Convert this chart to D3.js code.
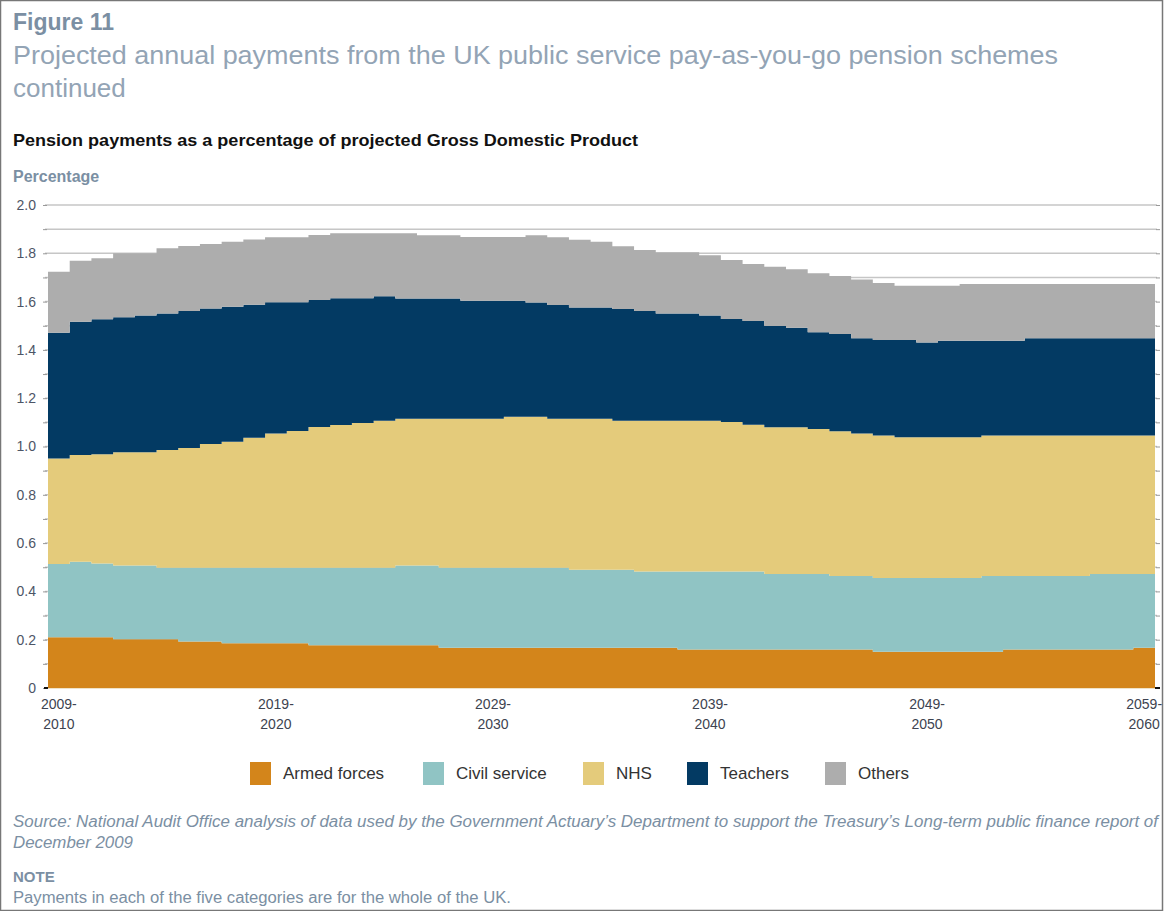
<!DOCTYPE html>
<html>
<head>
<meta charset="utf-8">
<script src="https://cdn.jsdelivr.net/npm/d3@7/dist/d3.min.js"></script>
<style>
  body { margin: 0; background: #fff; }
  svg { display: block; font-family: "Liberation Sans", Arial, sans-serif; }
</style>
</head>
<body>
<svg id="canvas"></svg>
<script>
// Financial years 2009-2010 ... 2059-2060
const startYears = d3.range(2009, 2060);
const categories = startYears.map((y) => `${y}-${y + 1}`);

// Series values (% of GDP)
const armedForces = [0.210,0.210,0.210,0.202,0.202,0.202,0.193,0.193,0.185,0.185,0.185,0.185,0.177,0.177,0.177,0.177,0.177,0.177,0.167,0.167,0.167,0.167,0.167,0.167,0.167,0.167,0.167,0.167,0.167,0.159,0.159,0.159,0.159,0.159,0.159,0.159,0.159,0.159,0.150,0.150,0.150,0.150,0.150,0.150,0.159,0.159,0.159,0.159,0.159,0.159,0.167];
const civilService = [0.303,0.313,0.306,0.305,0.305,0.296,0.305,0.305,0.313,0.313,0.313,0.313,0.321,0.321,0.321,0.321,0.330,0.330,0.331,0.331,0.331,0.331,0.331,0.331,0.323,0.323,0.323,0.315,0.315,0.323,0.323,0.323,0.323,0.313,0.313,0.313,0.305,0.305,0.305,0.305,0.305,0.305,0.305,0.314,0.305,0.305,0.305,0.305,0.313,0.313,0.305];
const nhs = [0.437,0.442,0.452,0.469,0.469,0.488,0.496,0.512,0.522,0.538,0.556,0.566,0.583,0.591,0.599,0.609,0.608,0.608,0.617,0.617,0.617,0.625,0.625,0.617,0.625,0.625,0.617,0.625,0.625,0.625,0.625,0.619,0.608,0.608,0.608,0.600,0.599,0.590,0.591,0.583,0.583,0.583,0.583,0.582,0.582,0.582,0.582,0.582,0.574,0.574,0.574];
const teachers = [0.521,0.552,0.559,0.559,0.566,0.565,0.567,0.561,0.559,0.551,0.543,0.533,0.526,0.525,0.517,0.515,0.498,0.498,0.498,0.489,0.489,0.481,0.473,0.471,0.461,0.461,0.462,0.454,0.444,0.444,0.435,0.427,0.430,0.419,0.412,0.401,0.403,0.394,0.395,0.403,0.393,0.400,0.400,0.392,0.392,0.402,0.402,0.402,0.402,0.402,0.402];
const others = [0.253,0.252,0.252,0.265,0.258,0.270,0.269,0.268,0.269,0.270,0.269,0.269,0.269,0.269,0.269,0.261,0.270,0.262,0.262,0.263,0.263,0.263,0.279,0.280,0.280,0.272,0.260,0.253,0.253,0.253,0.250,0.244,0.236,0.245,0.242,0.244,0.240,0.244,0.236,0.225,0.235,0.228,0.235,0.235,0.235,0.225,0.225,0.225,0.225,0.225,0.225];

const seriesNames = ["Armed forces", "Civil service", "NHS", "Teachers", "Others"];
const seriesColors = ["#d3851b", "#90c4c4", "#e4cb7b", "#033a63", "#adadad"];
const yTicks = d3.range(0, 21).map((d) => d / 10);
const xLabelEvery = 10;

const svgWidth = 1164;
const svgHeight = 911;
const plotLeft = 48;
const plotRight = 1155;
const plotTop = 205;
const plotBottom = 688;

const svg = d3.select("#canvas")
              .attr("width", svgWidth)
              .attr("height", svgHeight);

// page frame
svg.append("rect")
   .attr("x", 0.5).attr("y", 0.5)
   .attr("width", svgWidth - 2).attr("height", svgHeight - 1)
   .attr("fill", "none").attr("stroke", "#777").attr("stroke-width", 1.5);

// Headings
svg.append("text").attr("x", 13).attr("y", 30)
   .text("Figure 11")
   .style("font-weight", "bold").style("font-size", "23px").attr("fill", "#7b8fa3");
svg.append("text").attr("x", 13).attr("y", 64)
   .attr("textLength", 1045).attr("lengthAdjust", "spacingAndGlyphs")
   .text("Projected annual payments from the UK public service pay-as-you-go pension schemes")
   .style("font-size", "26px").attr("fill", "#93a4b5");
svg.append("text").attr("x", 13).attr("y", 97)
   .text("continued")
   .style("font-size", "26px").attr("fill", "#93a4b5");
svg.append("text").attr("x", 13).attr("y", 146)
   .attr("textLength", 625).attr("lengthAdjust", "spacingAndGlyphs")
   .text("Pension payments as a percentage of projected Gross Domestic Product")
   .style("font-size", "17px").style("font-weight", "bold").attr("fill", "#111");
svg.append("text").attr("x", 13).attr("y", 182)
   .text("Percentage")
   .style("font-size", "16px").style("font-weight", "bold").attr("fill", "#7b8fa3");

// Scales
const x = d3.scaleBand()
            .domain(categories)
            .range([plotLeft, plotRight])
            .padding(0);
const y = d3.scaleLinear()
            .domain([0, 2])
            .range([plotBottom, plotTop]);

// Gridlines behind the areas
svg.append("g")
   .selectAll("line")
   .data(yTicks.filter((d) => d > 0))
   .enter()
   .append("line")
   .attr("x1", plotLeft - 3).attr("x2", plotRight + 2)
   .attr("y1", (d) => y(d)).attr("y2", (d) => y(d))
   .attr("stroke", "#c6c6c6").attr("stroke-width", 1.5);

// Stack the five series
const rows = categories.map((c, i) => ({
   cat: c,
   "Armed forces": armedForces[i],
   "Civil service": civilService[i],
   "NHS": nhs[i],
   "Teachers": teachers[i],
   "Others": others[i]
}));
const stacked = d3.stack().keys(seriesNames)(rows);

// step area: each year is flat across its band
const area = d3.area()
               .curve(d3.curveStepAfter)
               .x((p) => p.x)
               .y0((p) => y(p.lo))
               .y1((p) => y(p.hi));

svg.append("g")
   .selectAll("path")
   .data(stacked)
   .enter()
   .append("path")
   .attr("fill", (d, i) => seriesColors[i])
   .attr("d", (layer) => {
      const pts = layer.map((d) => ({ x: x(d.data.cat), lo: d[0], hi: d[1] }));
      const last = layer[layer.length - 1];
      pts.push({ x: x(last.data.cat) + x.bandwidth(), lo: last[0], hi: last[1] });
      return area(pts);
   });

// Left axis: ticks every 0.1, labels every 0.2
const yAxis = d3.axisLeft(y)
                .tickValues(yTicks)
                .tickSize(4)
                .tickPadding(7)
                .tickFormat((d) => {
                   const k = Math.round(d * 10);
                   if (k % 2 !== 0) return "";
                   return k === 0 ? "0" : d.toFixed(1);
                });
const gY = svg.append("g")
              .attr("transform", `translate(${plotLeft - 1}, 0)`)
              .call(yAxis);
gY.select(".domain").remove();
gY.selectAll(".tick line").attr("stroke", "#999");
gY.selectAll(".tick text")
  .style("font-size", "14px")
  .attr("fill", "#4d5566")
  .style("font-family", "'Liberation Sans', Arial, sans-serif");

// Right axis ticks only
const gR = svg.append("g")
              .attr("transform", `translate(${plotRight + 1}, 0)`)
              .call(d3.axisRight(y).tickValues(yTicks).tickSize(4).tickFormat(""));
gR.select(".domain").remove();
gR.selectAll(".tick line").attr("stroke", "#999");

// base line
svg.append("line")
   .attr("x1", plotLeft - 3).attr("x2", plotRight + 4)
   .attr("y1", y(0) + 0.5).attr("y2", y(0) + 0.5)
   .attr("stroke", "#f0e3c8").attr("stroke-width", 1);
svg.append("line").attr("x1", plotLeft - 4).attr("x2", plotLeft).attr("y1", y(0)).attr("y2", y(0)).attr("stroke", "#111").attr("stroke-width", 2);
svg.append("line").attr("x1", plotRight).attr("x2", plotRight + 5).attr("y1", y(0)).attr("y2", y(0)).attr("stroke", "#111").attr("stroke-width", 2);

// X axis labels on two lines, every 10th year
const gX = svg.append("g")
              .attr("transform", `translate(0, ${plotBottom})`)
              .call(d3.axisBottom(x)
                      .tickValues(categories.filter((c, i) => i % xLabelEvery === 0))
                      .tickSize(0)
                      .tickFormat(""));
gX.select(".domain").remove();
gX.selectAll(".tick")
  .append("text")
  .attr("text-anchor", "middle")
  .attr("fill", "#3d4350")
  .style("font-size", "14px")
  .each(function (d) {
     const parts = d.split("-");
     const t = d3.select(this);
     t.append("tspan").attr("x", 0).attr("y", 21).text(parts[0] + "-");
     t.append("tspan").attr("x", 0).attr("y", 41).text(parts[1]);
  });

// Legend
const legendX = [250, 423, 583, 687, 825];
const legend = svg.append("g")
                  .selectAll("g")
                  .data(seriesNames)
                  .enter()
                  .append("g")
                  .attr("transform", (d, i) => `translate(${legendX[i]}, 762)`);
legend.append("rect")
      .attr("width", 21).attr("height", 23)
      .attr("fill", (d, i) => seriesColors[i]);
legend.append("text")
      .attr("x", 33).attr("y", 17)
      .style("font-size", "17px")
      .attr("fill", "#333")
      .text((d) => d);

// Source and note
svg.append("text").attr("x", 13).attr("y", 827)
   .attr("textLength", 1145).attr("lengthAdjust", "spacingAndGlyphs")
   .style("font-size", "16px").style("font-style", "italic").attr("fill", "#7b8fa3")
   .text("Source: National Audit Office analysis of data used by the Government Actuary\u2019s Department to support the Treasury\u2019s Long-term public finance report of");
svg.append("text").attr("x", 13).attr("y", 848)
   .attr("textLength", 120).attr("lengthAdjust", "spacingAndGlyphs")
   .style("font-size", "16px").style("font-style", "italic").attr("fill", "#7b8fa3")
   .text("December 2009");
svg.append("text").attr("x", 13).attr("y", 882)
   .style("font-size", "15px").style("font-weight", "bold").attr("fill", "#7b8fa3")
   .text("NOTE");
svg.append("text").attr("x", 13).attr("y", 903)
   .attr("textLength", 498).attr("lengthAdjust", "spacingAndGlyphs")
   .style("font-size", "16px").attr("fill", "#7b8fa3")
   .text("Payments in each of the five categories are for the whole of the UK.");
</script>
</body>
</html>
